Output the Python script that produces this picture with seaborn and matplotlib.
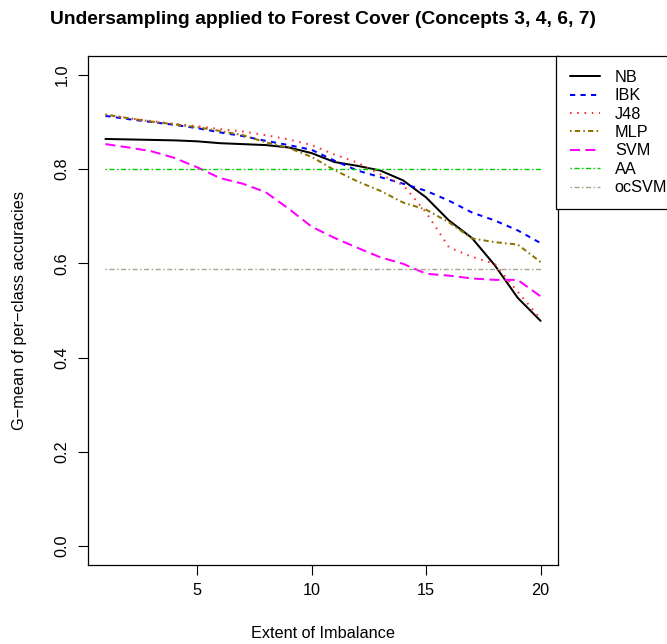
import numpy as np
import pandas as pd
import matplotlib
matplotlib.use("Agg")
import matplotlib.pyplot as plt
import seaborn as sns

# Extent of imbalance (x axis)
imbalance = list(range(1, 21))

# G-mean of per-class accuracies for each learner
nb = [0.864, 0.863, 0.862, 0.861, 0.859, 0.855, 0.853, 0.851, 0.846, 0.834,
      0.815, 0.807, 0.797, 0.776, 0.740, 0.691, 0.654, 0.596, 0.527, 0.478]
ibk = [0.913, 0.906, 0.900, 0.894, 0.887, 0.878, 0.870, 0.860, 0.851, 0.841,
       0.818, 0.797, 0.783, 0.769, 0.754, 0.733, 0.708, 0.691, 0.670, 0.643]
j48 = [0.915, 0.908, 0.902, 0.896, 0.891, 0.885, 0.880, 0.872, 0.863, 0.851,
       0.831, 0.814, 0.789, 0.766, 0.708, 0.634, 0.614, 0.599, 0.540, 0.482]
mlp = [0.916, 0.908, 0.901, 0.895, 0.889, 0.881, 0.872, 0.857, 0.845, 0.826,
       0.798, 0.774, 0.754, 0.729, 0.714, 0.687, 0.653, 0.645, 0.640, 0.603]
svm = [0.853, 0.846, 0.838, 0.824, 0.804, 0.781, 0.769, 0.751, 0.716, 0.678,
       0.654, 0.633, 0.613, 0.599, 0.578, 0.574, 0.568, 0.565, 0.565, 0.530]

# Reference levels drawn as flat lines across the range
aa_level = 0.800
ocsvm_level = 0.588

series_names = ["NB", "IBK", "J48", "MLP", "SVM", "AA", "ocSVM"]

sns.set_style("ticks")
plt.rcParams["font.family"] = ["Liberation Sans", "DejaVu Sans"]
plt.rcParams["text.color"] = "black"
plt.rcParams["xtick.color"] = "black"
plt.rcParams["ytick.color"] = "black"
plt.rcParams["axes.labelcolor"] = "black"

W, H = 667, 644
fig = plt.figure(figsize=(W / 100, H / 100), dpi=100)
ax = fig.add_axes([88 / W, 1 - 565 / H, 470 / W, 509 / H])

df = pd.DataFrame({
    "Extent": imbalance * 7,
    "G-mean": nb + ibk + j48 + mlp + svm + [aa_level] * 20 + [ocsvm_level] * 20,
    "Learner": sum([[n] * 20 for n in series_names], []),
})

styles = {
    "NB":    dict(color="black",   lw=1.45, ls="-"),
    "IBK":   dict(color="#0000FF", lw=1.45, ls=(0, (2.6, 2.6))),
    "J48":   dict(color="#FF3030", lw=1.45, ls=(0, (0.8, 2.8))),
    "MLP":   dict(color="#8B7500", lw=1.45, ls=(0, (0.8, 1.6, 2.6, 1.6))),
    "SVM":   dict(color="#FF00FF", lw=1.45, ls=(0, (5.0, 2.6))),
    "AA":    dict(color="#00CD00", lw=1.0, ls=(0, (1.1, 1.8, 3.6, 1.8))),
    "ocSVM": dict(color="#A8A290", lw=1.0, ls=(0, (1.1, 1.8, 3.6, 1.8))),
}

for name in series_names:
    st = styles[name]
    sub = df[df["Learner"] == name]
    sns.lineplot(data=sub, x="Extent", y="G-mean", ax=ax, color=st["color"],
                 linewidth=st["lw"], linestyle=st["ls"], label=name,
                 legend=False)

ax.set_xlim(0.24, 20.76)
ax.set_ylim(-0.04, 1.04)
ax.set_xticks([5, 10, 15, 20])
ax.set_yticks([0.0, 0.2, 0.4, 0.6, 0.8, 1.0])
ax.set_yticklabels(["0.0", "0.2", "0.4", "0.6", "0.8", "1.0"],
                   rotation=90, va="center")
ax.tick_params(axis="both", direction="out", length=7.2, width=0.8,
               labelsize=11.7, color="black", labelcolor="black")
ax.tick_params(axis="x", pad=6)
ax.tick_params(axis="y", pad=6)
for sp in ax.spines.values():
    sp.set_visible(True)
    sp.set_color("black")
    sp.set_linewidth(0.9)
ax.set_xlabel("")
ax.set_ylabel("")

fig.text(323 / W, 1 - 20 / H,
         "Undersampling applied to Forest Cover (Concepts 3, 4, 6, 7)",
         ha="center", va="center", fontsize=13.85, fontweight="bold",
         color="black")
fig.text(323 / W, 1 - 633 / H, "Extent of Imbalance",
         ha="center", va="center", fontsize=11.7, color="black")
fig.text(20 / W, 1 - 310 / H, "G\u2212mean of per\u2212class accuracies",
         ha="center", va="center", rotation=90, fontsize=11.7, color="black")

handles, labels = ax.get_legend_handles_labels()
leg = ax.legend(handles, labels, loc="upper left",
                bbox_to_anchor=(556 / W, 1 - 56 / H),
                bbox_transform=fig.transFigure,
                fontsize=11.7, frameon=True, fancybox=False, shadow=False,
                framealpha=1, edgecolor="black", borderpad=0.85,
                labelspacing=0.21, handlelength=1.85, handletextpad=0.92,
                borderaxespad=0)
leg.get_frame().set_linewidth(0.9)
for t in leg.get_texts():
    t.set_color("black")

fig.savefig("out.png", dpi=100)
